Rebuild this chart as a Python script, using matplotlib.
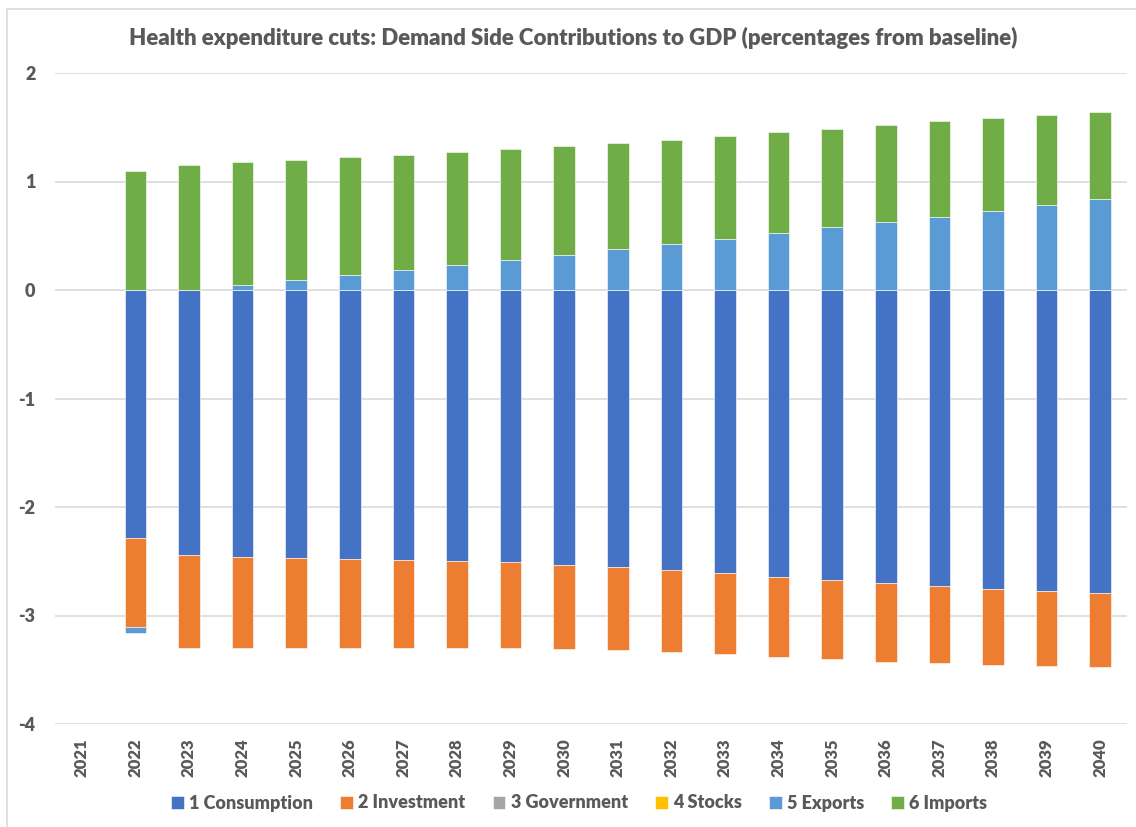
import numpy as np
import matplotlib
matplotlib.use("Agg")
import matplotlib.pyplot as plt
from matplotlib.patches import Rectangle

plt.rcParams["font.family"] = ["Lato", "DejaVu Sans"]
plt.rcParams["axes.unicode_minus"] = False

# Demand side contributions to GDP, % from baseline (2021 has no data)
years = [str(y) for y in range(2021, 2041)]
consumption = [np.nan, -2.29, -2.44, -2.46, -2.47, -2.48, -2.49, -2.50, -2.51, -2.535,
               -2.553, -2.58, -2.611, -2.642, -2.673, -2.703, -2.728, -2.756, -2.774, -2.796]
investment = [np.nan, -0.82, -0.86, -0.84, -0.83, -0.82, -0.81, -0.80, -0.79, -0.775,
              -0.762, -0.755, -0.747, -0.74, -0.731, -0.723, -0.713, -0.703, -0.691, -0.679]
government = [np.nan] + [0.0] * 19
stocks = [np.nan] + [0.0] * 19
exports = [np.nan, -0.05, 0.004, 0.043, 0.089, 0.135, 0.181, 0.227, 0.274, 0.32,
           0.375, 0.421, 0.473, 0.522, 0.578, 0.627, 0.676, 0.728, 0.78, 0.836]
imports = [np.nan, 1.10, 1.148, 1.134, 1.109, 1.088, 1.065, 1.042, 1.026, 1.007,
           0.98, 0.966, 0.946, 0.931, 0.909, 0.897, 0.879, 0.86, 0.836, 0.807]

series = [
    ("1 Consumption", consumption, "#4472C4"),
    ("2 Investment", investment, "#ED7D31"),
    ("3 Government", government, "#A5A5A5"),
    ("4 Stocks", stocks, "#FFC000"),
    ("5 Exports", exports, "#5B9BD5"),
    ("6 Imports", imports, "#70AD47"),
]

TXT = "#595959"
W = "heavy"

fig = plt.figure(figsize=(11.36, 8.27), dpi=100)
ax = fig.add_axes([55 / 1136, 1 - 724 / 827, 1072 / 1136, 651 / 827])

# stack positives upward and negatives downward, like a spreadsheet chart
x = np.arange(len(years))
pos_base = np.zeros(len(years))
neg_base = np.zeros(len(years))
for label, vals, color in series:
    v = np.array(vals, dtype=float)
    ok = ~np.isnan(v)
    v0 = np.nan_to_num(v)
    bottom = np.where(v0 >= 0, pos_base, neg_base)
    ax.bar(x[ok], v0[ok], 0.4, bottom=bottom[ok], color=color, label=label,
           edgecolor="white", linewidth=0.4, zorder=3)
    pos_base += np.where(v0 >= 0, v0, 0)
    neg_base += np.where(v0 < 0, v0, 0)

ax.set_xlim(-0.5, len(years) - 0.5)
ax.set_ylim(-4, 2)
ax.set_yticks(range(-4, 3))
ax.grid(axis="y", color="#D9D9D9", linewidth=1.2, zorder=0)
for s in ax.spines.values():
    s.set_visible(False)
ax.tick_params(length=0)
ax.set_xticks(x)
ax.set_xticklabels(years, rotation=90, fontsize=12, fontweight=W, color=TXT)
for lab in ax.get_yticklabels():
    lab.set_fontsize(13)
    lab.set_fontweight(W)
    lab.set_color(TXT)
ax.tick_params(axis="y", pad=14)
ax.tick_params(axis="x", pad=10)

fig.text(0.5045, 1 - 38 / 827,
         "Health expenditure cuts: Demand Side Contributions to GDP (percentages from baseline)",
         ha="center", va="center", fontsize=16, fontweight=W, color=TXT)

leg = fig.legend(loc="center", bbox_to_anchor=(0.51, 1 - 803 / 827), ncol=6, frameon=False,
                 handlelength=0.7, handleheight=0.7, handletextpad=0.3, columnspacing=1.5,
                 prop={"size": 13, "weight": W})
for t in leg.get_texts():
    t.set_color(TXT)

# light chart frame
fig.patches.append(Rectangle((7 / 1136, -0.1), 1.2, 1.1 - 9 / 827, transform=fig.transFigure,
                             fill=False, edgecolor="#D9D9D9", linewidth=1.2))

fig.savefig("out.png", dpi=100)
